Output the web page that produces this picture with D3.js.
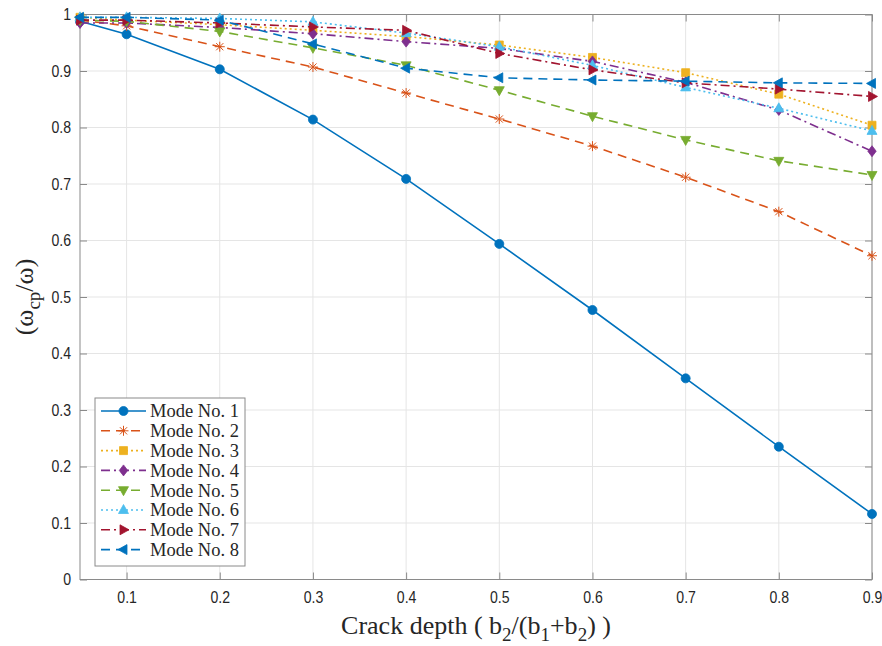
<!DOCTYPE html>
<html>
<head>
<meta charset="utf-8">
<script src="https://cdn.jsdelivr.net/npm/d3@7"></script>
<style>
  body { margin: 0; background: #fff; }
  svg { display: block; }
  .tick text { font-family: "Liberation Sans", Arial, sans-serif; font-size: 16px; fill: #262626; }
  .label { font-family: "Liberation Serif", "Times New Roman", serif; fill: #262626; }
</style>
</head>
<body>
<svg id="chart" width="882" height="646"></svg>
<script>
// ===== data
const crackDepth = [0.05, 0.1, 0.2, 0.3, 0.4, 0.5, 0.6, 0.7, 0.8, 0.9];
const xTicks = [0.1, 0.2, 0.3, 0.4, 0.5, 0.6, 0.7, 0.8, 0.9];
const yTicks = [0, 0.1, 0.2, 0.3, 0.4, 0.5, 0.6, 0.7, 0.8, 0.9, 1];

const mode1 = [0.988, 0.965, 0.903, 0.814, 0.709, 0.594, 0.477, 0.356, 0.235, 0.116];
const mode2 = [0.990, 0.980, 0.943, 0.907, 0.861, 0.815, 0.767, 0.712, 0.651, 0.573];
const mode3 = [0.995, 0.990, 0.982, 0.972, 0.961, 0.946, 0.924, 0.897, 0.859, 0.804];
const mode4 = [0.985, 0.985, 0.977, 0.966, 0.952, 0.940, 0.917, 0.880, 0.831, 0.758];
const mode5 = [0.990, 0.988, 0.970, 0.941, 0.910, 0.866, 0.820, 0.778, 0.741, 0.716];
const mode6 = [0.995, 0.995, 0.993, 0.987, 0.967, 0.943, 0.910, 0.871, 0.834, 0.794];
const mode7 = [0.990, 0.990, 0.985, 0.978, 0.972, 0.931, 0.902, 0.879, 0.868, 0.855];
const mode8 = [0.995, 0.995, 0.990, 0.948, 0.905, 0.888, 0.884, 0.882, 0.879, 0.878];

const modeNames = ["Mode No. 1", "Mode No. 2", "Mode No. 3", "Mode No. 4",
                   "Mode No. 5", "Mode No. 6", "Mode No. 7", "Mode No. 8"];
const modeValues = [mode1, mode2, mode3, mode4, mode5, mode6, mode7, mode8];

// MATLAB style: colour, dash, marker
const colors = ["#0072BD", "#D95319", "#EDB120", "#7E2F8E", "#77AC30", "#4DBEEE", "#A2142F", "#0072BD"];
const dashes = [null, "9,6", "2,3", "9,4,2,4", "9,6", "2,3", "9,4,2,4", "9,6"];
const markers = ["circle", "star", "square", "diamond", "down", "up", "right", "left"];

const series = modeNames.map((name, i) => ({
  name,
  color: colors[i],
  dash: dashes[i],
  marker: markers[i],
  points: crackDepth.map((x, j) => ({ x, y: modeValues[i][j] }))
}));

// ===== layout
const svg = d3.select("#chart");
const margin = { top: 14.5, right: 10, bottom: 66.5, left: 80 };
const width = 882 - margin.left - margin.right;
const height = 646 - margin.top - margin.bottom;

const x = d3.scaleLinear().domain([0.05, 0.9]).range([0, width]);
const y = d3.scaleLinear().domain([0, 1]).range([height, 0]);

const g = svg.append("g").attr("transform", `translate(${margin.left},${margin.top})`);

// grid
g.append("g")
  .selectAll("line")
  .data(xTicks)
  .join("line")
  .attr("x1", d => x(d)).attr("x2", d => x(d))
  .attr("y1", 0).attr("y2", height)
  .attr("stroke", "#e5e5e5");

g.append("g")
  .selectAll("line")
  .data(yTicks)
  .join("line")
  .attr("x1", 0).attr("x2", width)
  .attr("y1", d => y(d)).attr("y2", d => y(d))
  .attr("stroke", "#e5e5e5");

// axes (ticks inward, box on)
const axisColor = "#8a8a8a";
function styleAxis(sel) {
  sel.select(".domain").remove();
  sel.selectAll(".tick line").attr("stroke", axisColor);
  // narrow the tick labels like the reference
  sel.selectAll(".tick text").each(function () {
    const w = this.getComputedTextLength();
    if (w > 0) d3.select(this).attr("textLength", w * 0.88).attr("lengthAdjust", "spacingAndGlyphs");
  });
}

g.append("g")
  .attr("transform", `translate(0,${height})`)
  .call(d3.axisBottom(x).tickValues(xTicks).tickSize(-7).tickPadding(12).tickFormat(d3.format(".1f")))
  .call(styleAxis);

g.append("g")
  .call(d3.axisTop(x).tickValues(xTicks).tickSize(-7).tickFormat(""))
  .call(styleAxis);

g.append("g")
  .call(d3.axisLeft(y).tickValues(yTicks).tickSize(-7).tickPadding(9).tickFormat(d => d === 0 || d === 1 ? d3.format("d")(d) : d3.format(".1f")(d)))
  .call(styleAxis);

g.append("g")
  .attr("transform", `translate(${width},0)`)
  .call(d3.axisRight(y).tickValues(yTicks).tickSize(-7).tickFormat(""))
  .call(styleAxis);

g.append("rect")
  .attr("width", width).attr("height", height)
  .attr("fill", "none")
  .attr("stroke", axisColor)
  .attr("stroke-width", 1);

// ===== markers
function markerPath(type) {
  switch (type) {
    case "square": return "M-4,-4L4,-4L4,4L-4,4Z";
    case "diamond": return "M0,-5.5L4.2,0L0,5.5L-4.2,0Z";
    case "up": return "M0,-5.5L5,3.5L-5,3.5Z";
    case "down": return "M0,5.5L5,-3.5L-5,-3.5Z";
    case "right": return "M5.5,0L-3.5,-5L-3.5,5Z";
    case "left": return "M-5.5,0L3.5,-5L3.5,5Z";
    case "star": return "M-5,0L5,0M0,-5L0,5M-3.6,-3.6L3.6,3.6M-3.6,3.6L3.6,-3.6";
    default: return d3.symbol(d3.symbolCircle, 64)();
  }
}

function drawMarker(sel, s) {
  sel.append("path")
    .attr("d", markerPath(s.marker))
    .attr("fill", s.marker === "star" ? "none" : s.color)
    .attr("stroke", s.color)
    .attr("stroke-width", s.marker === "star" ? 1 : 0.8);
}

// ===== lines
const line = d3.line().x(d => x(d.x)).y(d => y(d.y));

const plot = g.append("g");
series.forEach(s => {
  plot.append("path")
    .datum(s.points)
    .attr("d", line)
    .attr("fill", "none")
    .attr("stroke", s.color)
    .attr("stroke-width", 1.6)
    .attr("stroke-dasharray", s.dash);

  plot.append("g")
    .selectAll("g")
    .data(s.points)
    .join("g")
    .attr("transform", d => `translate(${x(d.x)},${y(d.y)})`)
    .each(function () { drawMarker(d3.select(this), s); });
});

// ===== legend
const legend = svg.append("g").attr("transform", "translate(95,398)");
legend.append("rect")
  .attr("width", 150).attr("height", 168)
  .attr("fill", "#fff")
  .attr("stroke", axisColor);

const row = legend.selectAll("g.row")
  .data(series)
  .join("g")
  .attr("class", "row")
  .attr("transform", (d, i) => `translate(0,${13 + i * 19.8})`);

row.append("line")
  .attr("x1", 6).attr("x2", 51)
  .attr("stroke", d => d.color)
  .attr("stroke-width", 1.6)
  .attr("stroke-dasharray", d => d.dash);

row.each(function (d) {
  const m = d3.select(this).append("g").attr("transform", "translate(28.5,0)");
  drawMarker(m, d);
});

row.append("text")
  .attr("class", "label")
  .attr("x", 55)
  .attr("dy", "0.35em")
  .attr("font-size", 18.5)
  .text(d => d.name);

// ===== axis titles
const xTitle = svg.append("text")
  .attr("class", "label")
  .attr("x", margin.left + width / 2)
  .attr("y", 634)
  .attr("text-anchor", "middle")
  .attr("font-size", 26);
xTitle.append("tspan").text("Crack depth ( b");
xTitle.append("tspan").attr("font-size", 19).attr("dy", 7).text("2");
xTitle.append("tspan").attr("dy", -7).text("/(b");
xTitle.append("tspan").attr("font-size", 19).attr("dy", 7).text("1");
xTitle.append("tspan").attr("dy", -7).text("+b");
xTitle.append("tspan").attr("font-size", 19).attr("dy", 7).text("2");
xTitle.append("tspan").attr("dy", -7).text(") )");

const yTitle = svg.append("text")
  .attr("class", "label")
  .attr("transform", `translate(33,${margin.top + height / 2}) rotate(-90)`)
  .attr("text-anchor", "middle")
  .attr("font-size", 26);
yTitle.append("tspan").text("(ω");
yTitle.append("tspan").attr("font-size", 19).attr("dy", 7).text("cp");
yTitle.append("tspan").attr("dy", -7).text("/ω)");
</script>
</body>
</html>
